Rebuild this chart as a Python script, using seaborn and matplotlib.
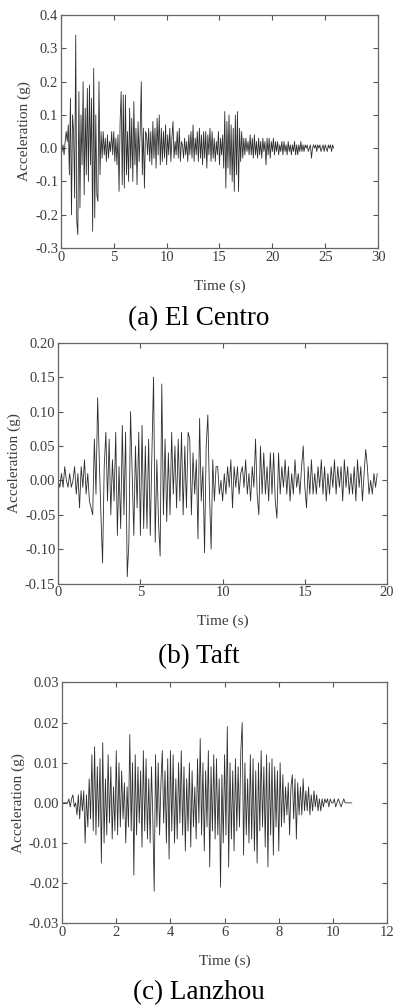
import numpy as np
import matplotlib
matplotlib.use("Agg")
import matplotlib.pyplot as plt
import seaborn as sns

# ---------------- data ----------------
elcentro_dt = 0.1
elcentro_acc = [
    0.00, -0.01, 0.01, -0.02, 0.02, 0.05, 0.02, 0.07, -0.08, 0.15,
    -0.20, 0.10, 0.05, -0.15, 0.34, -0.22, -0.26, 0.17, -0.18, 0.10,
    -0.05, 0.20, -0.14, 0.12, -0.08, 0.18, -0.10, 0.19, -0.05, 0.15,
    -0.25, 0.24, -0.21, 0.10, -0.14, -0.16, 0.20, -0.08, 0.05, -0.03,
    0.05, -0.02, 0.03, -0.04, 0.04, -0.03, 0.02, -0.01, 0.05, -0.02,
    0.05, -0.04, 0.03, -0.05, 0.04, -0.13, 0.08, 0.17, -0.11, 0.16,
    -0.12, 0.16, -0.08, 0.05, -0.10, 0.12, -0.06, 0.09, -0.10, 0.14,
    -0.05, 0.06, -0.11, 0.08, -0.04, 0.05, 0.20, -0.08, 0.06, -0.12,
    0.05, 0.04, -0.02, 0.06, -0.04, 0.05, -0.05, 0.08, -0.03, 0.06,
    -0.06, 0.09, -0.02, 0.10, -0.05, 0.06, -0.04, 0.05, -0.03, 0.07,
    -0.05, 0.04, -0.02, 0.06, -0.04, 0.03, 0.08, -0.03, 0.02, -0.02,
    0.05, -0.03, 0.06, -0.04, 0.02, 0.01, -0.03, 0.03, -0.02, 0.02,
    -0.04, 0.04, -0.02, 0.05, -0.03, 0.07, -0.04, 0.03, -0.02, 0.05,
    -0.04, 0.06, -0.03, 0.04, -0.05, 0.05, -0.03, 0.05, -0.06, 0.04,
    -0.02, 0.06, -0.04, 0.05, -0.03, 0.03, -0.04, 0.02, -0.02, 0.05,
    -0.05, 0.03, -0.02, 0.04, -0.06, 0.11, -0.12, 0.08, -0.06, 0.10,
    -0.08, 0.07, -0.10, 0.06, -0.13, 0.10, -0.08, 0.11, -0.13, 0.06,
    -0.04, 0.05, -0.03, 0.03, -0.02, 0.03, -0.01, 0.02, -0.02, 0.04,
    -0.02, 0.03, -0.03, 0.04, -0.02, 0.02, -0.03, 0.03, -0.02, 0.02,
    -0.03, 0.03, -0.01, 0.02, -0.05, 0.03, -0.02, 0.03, -0.03, 0.02,
    -0.01, 0.03, -0.02, 0.02, -0.01, 0.02, -0.02, 0.01, -0.01, 0.02,
    -0.02, 0.02, -0.01, 0.01, -0.02, 0.02, -0.01, 0.01, -0.02, 0.01,
    -0.01, 0.02, -0.02, 0.01, -0.02, 0.01, -0.01, 0.02, -0.01, 0.01,
    -0.01, 0.01, 0.00, 0.01, -0.01, 0.00, 0.01, -0.03, 0.00, 0.01,
    0.00, 0.01, -0.01, 0.01, 0.00, 0.01, -0.01, 0.00, 0.01, -0.01,
    0.01, 0.00, -0.01, 0.01, 0.00, 0.01, -0.01, 0.01, 0.00,
]

taft_dt = 0.1
taft_acc = [
    0.00, -0.01, 0.01, -0.01, 0.02, 0.00, -0.01, 0.01, -0.01, 0.00,
    0.02, -0.02, 0.01, -0.04, 0.02, -0.01, 0.03, -0.02, 0.01, -0.03,
    -0.04, -0.05, 0.06, -0.02, 0.12, 0.03, -0.05, -0.12, 0.02, 0.07,
    -0.03, 0.06, -0.05, 0.03, -0.03, 0.07, -0.08, 0.02, -0.07, 0.08,
    -0.05, 0.07, -0.14, -0.09, 0.10, 0.01, -0.08, 0.05, -0.04, 0.07,
    -0.08, 0.08, -0.07, 0.05, -0.07, 0.06, -0.08, 0.04, 0.15, -0.09,
    0.03, -0.06, -0.11, 0.14, -0.05, 0.06, -0.06, 0.04, -0.05, 0.07,
    -0.02, 0.05, -0.04, 0.06, -0.03, 0.07, -0.05, 0.05, -0.04, 0.07,
    0.06, -0.05, 0.04, -0.02, 0.03, -0.085, 0.09, -0.03, 0.02, -0.105,
    0.05, 0.095, -0.02, -0.10, 0.03, -0.03, 0.02, 0.02, -0.02, 0.00,
    -0.03, 0.01, -0.02, 0.02, -0.01, 0.03, -0.04, 0.02, -0.01, 0.02,
    -0.02, 0.01, 0.02, -0.01, 0.03, -0.02, 0.01, -0.03, 0.02, -0.01,
    0.06, -0.02, -0.05, 0.05, -0.02, 0.04, -0.02, 0.02, -0.03, 0.04,
    -0.02, 0.04, -0.03, -0.055, 0.04, -0.02, 0.02, -0.01, 0.03, -0.02,
    0.02, -0.03, 0.01, -0.02, 0.03, -0.01, 0.01, -0.02, 0.02, 0.05,
    -0.01, -0.04, 0.02, -0.02, 0.03, -0.02, 0.01, -0.02, 0.02, -0.01,
    0.03, -0.02, 0.02, -0.03, 0.01, -0.02, 0.02, -0.01, 0.03, -0.02,
    0.02, -0.01, 0.02, -0.03, 0.03, -0.01, 0.02, -0.02, 0.01, -0.02,
    0.02, -0.03, 0.03, -0.01, 0.02, -0.03, 0.01, 0.045, 0.02, -0.02,
    0.00, -0.02, 0.01, -0.01, 0.01,
]

lanzhou_dt = 0.05
lanzhou_acc = [
    0.000, 0.000, 0.000, 0.000, 0.000, 0.001, -0.001, 0.001, 0.002, -0.001,
    0.000, -0.003, 0.002, -0.004, 0.003, -0.002, 0.003, -0.010, 0.002, -0.006,
    0.006, -0.004, 0.012, -0.007, 0.014, -0.008, 0.009, -0.006, 0.011, -0.015,
    0.015, -0.010, 0.006, -0.008, 0.012, -0.005, 0.009, -0.009, 0.004, -0.007,
    0.013, -0.008, 0.010, -0.006, 0.008, -0.004, 0.005, -0.010, 0.004, -0.006,
    0.017, -0.007, 0.010, -0.018, 0.012, -0.008, 0.009, -0.005, 0.008, -0.011,
    0.013, -0.007, 0.011, -0.009, 0.006, -0.010, 0.009, -0.004, -0.022, 0.012,
    -0.006, 0.010, -0.008, 0.005, 0.013, -0.005, 0.008, -0.010, 0.011, -0.014,
    0.013, -0.007, 0.012, -0.010, 0.006, -0.009, 0.010, -0.005, 0.013, -0.008,
    0.009, -0.012, 0.006, -0.007, 0.010, -0.011, 0.008, -0.006, 0.004, -0.009,
    0.011, -0.005, 0.016, -0.008, 0.010, -0.012, 0.008, -0.006, 0.013, -0.016,
    0.009, -0.007, 0.012, -0.009, 0.011, -0.008, 0.006, -0.021, 0.007, -0.010,
    0.012, -0.008, 0.019, -0.016, 0.010, -0.009, 0.008, -0.012, 0.011, -0.007,
    0.009, -0.006, 0.013, 0.020, -0.013, 0.010, -0.008, 0.006, -0.010, 0.012,
    -0.009, 0.011, -0.012, 0.008, -0.015, 0.010, -0.007, 0.013, -0.006, 0.009,
    -0.011, 0.012, -0.016, 0.010, -0.008, 0.011, -0.013, 0.009, -0.006, 0.008,
    -0.012, 0.010, -0.006, 0.007, -0.005, 0.004, -0.003, 0.005, -0.008, 0.004,
    0.007, -0.004, 0.006, -0.009, 0.005, -0.003, 0.004, -0.003, 0.006, -0.002,
    0.003, -0.002, 0.004, -0.003, 0.002, -0.002, 0.003, -0.001, 0.002, -0.002,
    0.001, -0.002, 0.001, -0.001, 0.001, 0.000, 0.001, -0.001, 0.001, 0.000,
    0.000, 0.001, -0.001, 0.000, 0.001, 0.000, -0.001, 0.000, 0.001, 0.000,
    0.000, 0.000, 0.000, 0.000, 0.000,
]

captions = ["(a) El Centro", "(b) Taft", "(c) Lanzhou"]
x_label = "Time (s)"
y_label = "Acceleration (g)"

xlims = [(0, 30), (0, 20), (0, 12)]
xticks = [[0, 5, 10, 15, 20, 25, 30], [0, 5, 10, 15, 20], [0, 2, 4, 6, 8, 10, 12]]
ylims = [(-0.3, 0.4), (-0.15, 0.20), (-0.03, 0.03)]
yticks = [
    [-0.3, -0.2, -0.1, 0.0, 0.1, 0.2, 0.3, 0.4],
    [-0.15, -0.10, -0.05, 0.00, 0.05, 0.10, 0.15, 0.20],
    [-0.03, -0.02, -0.01, 0.00, 0.01, 0.02, 0.03],
]
yfmt = ["{:.1f}", "{:.2f}", "{:.2f}"]

# ---------------- figure ----------------
sns.set_theme(style="white")
plt.rcParams["font.family"] = ["Liberation Serif", "DejaVu Serif"]

fig = plt.figure(figsize=(3.93, 10.08), dpi=100)
boxes = [
    (0.155, 0.754, 0.807, 0.231),
    (0.148, 0.421, 0.837, 0.239),
    (0.158, 0.084, 0.827, 0.239),
]
cap_y = [0.684, 0.349, 0.015]

records = [
    (elcentro_dt, elcentro_acc),
    (taft_dt, taft_acc),
    (lanzhou_dt, lanzhou_acc),
]

txt_col = "#3c3c3c"
for i, (dt, acc) in enumerate(records):
    ax = fig.add_axes(boxes[i])
    t = np.round(np.arange(len(acc)) * dt, 3)
    sns.lineplot(x=t, y=np.array(acc), ax=ax, color="#2e2e2e", linewidth=0.6,
                 estimator=None, sort=False)
    ax.set_xlim(*xlims[i])
    ax.set_ylim(*ylims[i])
    ax.set_xticks(xticks[i])
    ax.set_xticklabels([str(v) for v in xticks[i]])
    ax.set_yticks(yticks[i])
    ax.set_yticklabels([yfmt[i].format(v) for v in yticks[i]])
    ax.tick_params(direction="in", length=3.5, width=0.8, top=True, right=True,
                   bottom=True, left=True, labelsize=10.5, colors="#555555",
                   labelcolor=txt_col, pad=2)
    for sp in ax.spines.values():
        sp.set_color("#666666")
        sp.set_linewidth(0.9)
    ax.set_xlabel(x_label, fontsize=11, color=txt_col, labelpad=11)
    ax.set_ylabel(y_label, fontsize=11, color=txt_col, labelpad=3)
    fig.text(0.505, cap_y[i], captions[i], ha="center", va="center",
             fontsize=19.5, color="black")

fig.savefig("out.png", dpi=100)
